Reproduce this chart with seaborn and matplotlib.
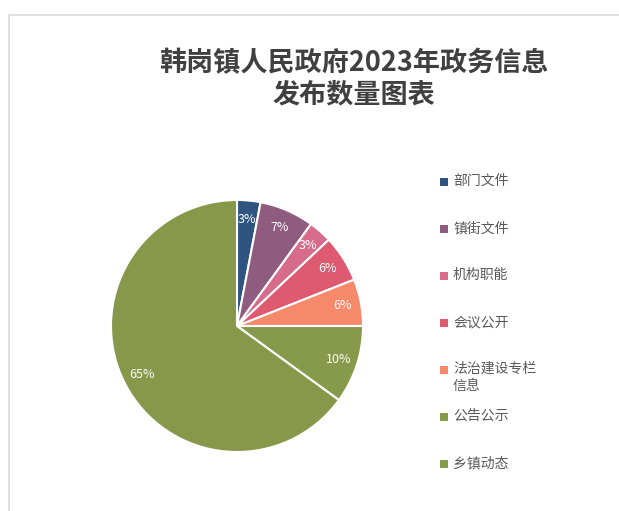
import matplotlib
matplotlib.use("Agg")
import matplotlib.pyplot as plt
import seaborn as sns
from matplotlib.lines import Line2D
from matplotlib.patches import Rectangle

# data
categories = ["部门文件", "镇街文件", "机构职能", "会议公开", "法治建设专栏\n信息", "公告公示", "乡镇动态"]
shares = [3, 7, 3, 6, 6, 10, 65]
colors = ["#2f5480", "#8f5c80", "#d66b8c", "#dd5a70", "#f5896a", "#87994a", "#87984a"]
title = "韩岗镇人民政府2023年政务信息\n发布数量图表"

sns.set_theme(style="white")
plt.rcParams["font.family"] = ["Noto Sans CJK SC", "DejaVu Sans"]

W, H = 619, 511
fig = plt.figure(figsize=(W / 100, H / 100), dpi=100)
fig.patch.set_facecolor("white")

# pie axes: center (237, 326) px, radius 126 px
cx, cy, r = 237, 326, 126
ax = fig.add_axes([(cx - r) / W, (H - cy - r) / H, 2 * r / W, 2 * r / H])
ax.pie(shares, colors=colors, startangle=90, counterclock=False, radius=1,
       autopct="%1.0f%%", pctdistance=0.85,
       wedgeprops=dict(edgecolor="white", linewidth=1.5),
       textprops=dict(color="white", fontsize=9))
ax.set_xlim(-1, 1)
ax.set_ylim(-1, 1)
ax.set_aspect("auto")
ax.axis("off")

# title
fig.text(354 / W, 1 - 79 / H, title, ha="center", va="center", fontsize=19.5,
         fontweight="bold", color="#404040", linespacing=1.15)

# legend drawn by hand so wrapped entry keeps its marker on the first line
y0, step = 182, 47
for i, (lab, col) in enumerate(zip(categories, colors)):
    yc = y0 + i * step
    fig.add_artist(Rectangle((440 / W, 1 - (yc + 4) / H), 8 / W, 8 / H,
                             transform=fig.transFigure, facecolor=col, edgecolor="none"))
    fig.text(453 / W, 1 - (yc - 8) / H, lab, ha="left", va="top", fontsize=10,
             color="#595959", linespacing=1.25)

# light frame
fig.add_artist(Line2D([9 / W, 9 / W, 1], [0, 1 - 15 / H, 1 - 15 / H],
                      transform=fig.transFigure, color="#dedede", linewidth=1.3))

fig.savefig("out.png", dpi=100)
